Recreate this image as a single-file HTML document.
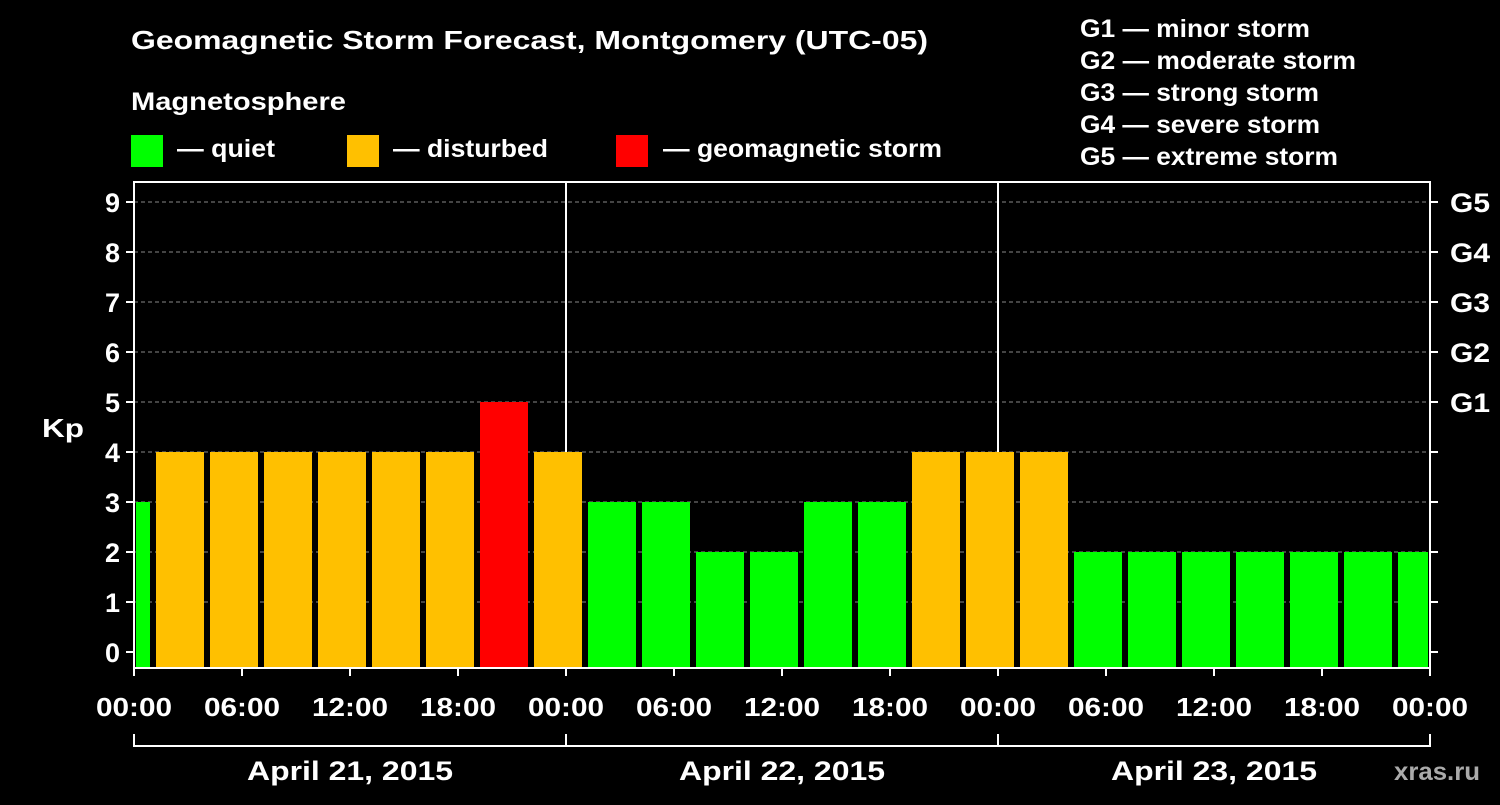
<!DOCTYPE html>
<html><head><meta charset="utf-8"><style>
body{margin:0;background:#000;}
svg text{font-family:"Liberation Sans",Arial,sans-serif;font-weight:bold;fill:#fff;}
</style></head><body>
<svg id="c" width="1500" height="800" xmlns="http://www.w3.org/2000/svg">
<rect width="1500" height="800" fill="#000"/>
<text x="131" y="49" font-size="26" textLength="797" lengthAdjust="spacingAndGlyphs">Geomagnetic Storm Forecast, Montgomery (UTC-05)</text>
<text x="131" y="110" font-size="25" textLength="215" lengthAdjust="spacingAndGlyphs">Magnetosphere</text>
<rect x="131" y="135" width="32" height="32" fill="#00ff00"/>
<text x="177" y="157" font-size="25" textLength="98" lengthAdjust="spacingAndGlyphs">— quiet</text>
<rect x="347" y="135" width="32" height="32" fill="#ffc000"/>
<text x="393" y="157" font-size="25" textLength="155" lengthAdjust="spacingAndGlyphs">— disturbed</text>
<rect x="616" y="135" width="32" height="32" fill="#ff0000"/>
<text x="663" y="157" font-size="25" textLength="279" lengthAdjust="spacingAndGlyphs">— geomagnetic storm</text>
<g font-size="25">
<text x="1080" y="37" textLength="230" lengthAdjust="spacingAndGlyphs">G1 — minor storm</text>
<text x="1080" y="69" textLength="276" lengthAdjust="spacingAndGlyphs">G2 — moderate storm</text>
<text x="1080" y="101" textLength="239" lengthAdjust="spacingAndGlyphs">G3 — strong storm</text>
<text x="1080" y="133" textLength="240" lengthAdjust="spacingAndGlyphs">G4 — severe storm</text>
<text x="1080" y="165" textLength="258" lengthAdjust="spacingAndGlyphs">G5 — extreme storm</text>
</g>
<text x="42" y="437" font-size="26" textLength="42" lengthAdjust="spacingAndGlyphs">Kp</text>
<text x="1394" y="780" font-size="25" textLength="86" lengthAdjust="spacingAndGlyphs" style="fill:#aaa">xras.ru</text>
<g id="plot"></g>
</svg>
<script>
const kpValues=[3,4,4,4,4,4,4,5,4,3,3,2,2,3,3,4,4,4,2,2,2,2,2,2,2];
const slotStartHours=[-2,1,4,7,10,13,16,19,22,25,28,31,34,37,40,43,46,49,52,55,58,61,64,67,70];
const yTicks=[0,1,2,3,4,5,6,7,8,9];
const gLabels=["G1","G2","G3","G4","G5"];
const xTickLabels=["00:00","06:00","12:00","18:00","00:00","06:00","12:00","18:00","00:00","06:00","12:00","18:00","00:00"];
const dayLabels=["April 21, 2015","April 22, 2015","April 23, 2015"];
const L=134,R=1430,T=182,B=668;
const xs=h=>L+(R-L)*h/72;
const ys=v=>652-50*v;
const NS="http://www.w3.org/2000/svg";
const g=document.getElementById('plot');
function mk(t,a){const e=document.createElementNS(NS,t);for(const k in a)e.setAttribute(k,a[k]);g.appendChild(e);return e;}
yTicks.forEach(v=>{if(v>0){const l=mk('line',{x1:L,x2:R,y1:ys(v),y2:ys(v),stroke:'#888','stroke-dasharray':'4,3','stroke-width':1});

}});
[24,48].forEach(h=>{const l=mk('line',{x1:xs(h),x2:xs(h),y1:T,y2:B,stroke:'#fff','stroke-width':2});

});
kpValues.forEach((v,i)=>{const s=slotStartHours[i];let x0=xs(s)+4,x1=xs(s+3)-2;x0=Math.max(x0,L+2);x1=Math.min(x1,R-2);
const c=v>=5?'#ff0000':v>=4?'#ffc000':'#00ff00';
const r=mk('rect',{x:x0,y:ys(v),width:x1-x0,height:B-ys(v),fill:c});

});
const f=mk('rect',{x:L,y:T,width:R-L,height:B-T,fill:'none',stroke:'#fff','stroke-width':2});


yTicks.forEach(v=>{mk('line',{x1:L-8,x2:L,y1:ys(v),y2:ys(v),stroke:'#fff','stroke-width':2});
mk('line',{x1:R,x2:R+8,y1:ys(v),y2:ys(v),stroke:'#fff','stroke-width':2});
const t=mk('text',{x:L-14,y:ys(v)+10,'text-anchor':'end','font-size':27});t.textContent=v;

});
gLabels.forEach((s,i)=>{const t=mk('text',{x:R+20,y:ys(5+i)+10,'font-size':27,textLength:40,lengthAdjust:'spacingAndGlyphs'});t.textContent=s;

});
xTickLabels.forEach((s,i)=>{const x=xs(i*6);mk('line',{x1:x,x2:x,y1:B,y2:B+8,stroke:'#fff','stroke-width':2});
const t=mk('text',{x:x-38,y:716,'font-size':26,textLength:76,lengthAdjust:'spacingAndGlyphs'});t.textContent=s;

});
mk('line',{x1:L,x2:R,y1:746,y2:746,stroke:'#fff','stroke-width':2});
[0,24,48,72].forEach(h=>mk('line',{x1:xs(h),x2:xs(h),y1:734,y2:747,stroke:'#fff','stroke-width':2}));
dayLabels.forEach((s,i)=>{const t=mk('text',{x:xs(i*24+12)-103,y:780,'font-size':27,textLength:206,lengthAdjust:'spacingAndGlyphs'});t.textContent=s;

});
</script>
</body></html>
